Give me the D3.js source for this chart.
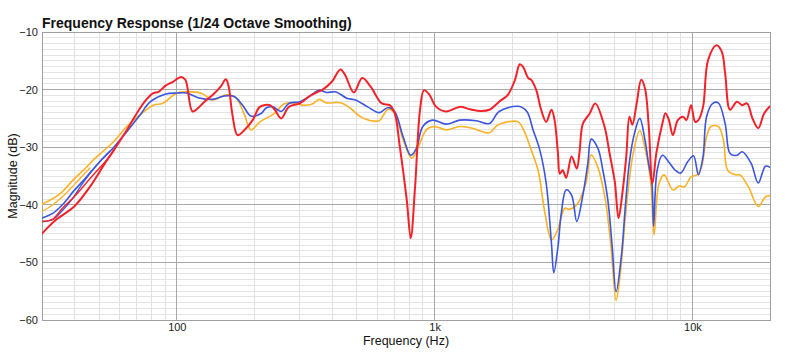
<!DOCTYPE html>
<html><head><meta charset="utf-8">
<script src="https://cdn.jsdelivr.net/npm/d3@7"></script>
<style>body{margin:0;background:#fff;} svg{display:block;font-family:"Liberation Sans",Arial,sans-serif;}</style>
</head><body><svg id="c" width="800" height="355"></svg>
<script>
const xTickValues = [100, 1000, 10000];
const xTickLabels = ["100", "1k", "10k"];
const yTickValues = [-60, -50, -40, -30, -20, -10];

const redFreq = [30,34,40,46,52.6,57,64,70,76,81,85,90,97,104,108,115,121,128,138,148,155,159,164,172,183,197,210,230,240,254,272,300,326,352,368,400,431,450,486,524,565,624,670,700,733,780,808,840,878,910,955,1015,1110,1250,1370,1510,1630,1780,1925,2050,2140,2200,2310,2370,2480,2590,2710,2840,2920,3010,3060,3140,3240,3400,3560,3650,3760,3990,4200,4560,4770,5000,5170,5350,5540,5700,5850,6080,6330,6550,6760,7000,7250,7650,7860,8100,8400,8780,9200,9480,9880,10250,10550,11000,11500,12400,13000,13400,14000,14880,15600,16300,17100,18000,19000,20000];
const redDb = [-45,-42.6,-40.3,-36.9,-32.8,-30.5,-27,-24.1,-21.8,-20.6,-20.4,-19.4,-18.6,-17.8,-18.3,-23.8,-23.2,-22.1,-20.9,-19.5,-18.2,-19.5,-24.1,-27.9,-27,-25.3,-23,-22.7,-23.5,-25,-23,-22.4,-21.2,-20.4,-20,-18.6,-16.5,-17.5,-20.5,-18,-19.5,-22.4,-22.7,-24.1,-29.9,-39.2,-45.8,-36.9,-23.5,-20.1,-20.9,-23,-23.8,-23,-23.4,-23.7,-23.5,-22.1,-20.9,-18.3,-15.6,-16,-18,-18.3,-20.1,-23.5,-25.6,-23.5,-25.3,-31.1,-34.6,-34,-35.3,-31.6,-33.7,-30.8,-25.9,-24.2,-22.4,-26.4,-31,-36,-42.3,-38,-31.6,-24.7,-26.1,-22.4,-18.3,-19.8,-25.9,-36.3,-31,-25.9,-24.1,-25.2,-27.9,-25.3,-24.7,-25.3,-22.7,-25.6,-25.3,-23,-14.9,-12.3,-13.4,-17.2,-23.5,-22.1,-22.7,-22.4,-25,-26.7,-24.1,-22.9];
const redAltFreq = [30,33,36,40,47,53.5,57];
const redAltDb = [-42.9,-42.5,-40.6,-38.6,-35,-32.2,-30.6];

const blueFreq = [30,33,36,40,44,50,57,64,72,79,90,100,109,121,138,153,167,180,194,213,222,236,254,272,300,326,357,380,415,456,493,550,610,660,700,755,808,850,900,980,1110,1250,1450,1630,1780,2110,2280,2410,2560,2710,2840,2900,3010,3100,3240,3400,3560,3760,3930,4050,4300,4495,4700,4880,5060,5300,5500,5700,5960,6250,6550,6760,6970,7070,7300,7650,8140,8580,9000,9600,10100,10550,11000,11350,12000,12600,13400,14000,14880,15600,16900,18000,19200,20000];
const blueDb = [-42.3,-41.5,-40,-37.5,-35.5,-32.6,-30,-27.3,-24.4,-22.1,-20.8,-20.6,-20.6,-21.4,-21.7,-21.1,-21.2,-22.7,-24.6,-24.1,-23.2,-23,-23.8,-22.4,-22.1,-21.2,-20.1,-20.5,-20.4,-21.5,-21.8,-23,-24,-23.1,-23.8,-28.2,-31.4,-30.2,-26.4,-25.3,-26,-25.3,-25.4,-25.9,-23.8,-22.9,-23.8,-27,-30.5,-36.3,-46.7,-51.8,-47.3,-41.5,-37.4,-38.3,-42.9,-38.3,-32.8,-28.6,-30.2,-34,-39.2,-47,-55.1,-49,-40,-32.5,-27.6,-25,-28.8,-32.8,-36.3,-43.7,-34,-31.4,-32.7,-34,-34.5,-32.5,-31.5,-34.8,-31.6,-24.7,-22.4,-22.3,-25.9,-31.1,-31.4,-30.8,-32.8,-36.2,-33.3,-33.5];
const blueAltFreq = [30,33,36,39,44,51,55];
const blueAltDb = [-42.9,-42.6,-41,-39.2,-35.7,-32.2,-30.7];

const orangeFreq = [30,35,40,45,47.5,50,57,64,72,81,88,100,109,124,138,155,170,183,194,210,222,240,260,283,307,335,357,380,431,470,515,565,610,660,700,755,815,860,932,1000,1110,1250,1400,1630,1750,1910,2110,2230,2370,2520,2680,2840,3000,3200,3330,3560,3860,4050,4300,4495,4640,4850,5060,5250,5540,5875,6250,6550,6880,7100,7420,7770,8400,8900,9300,9900,10400,10850,11350,11800,12600,13200,13700,14700,15300,16500,18000,19200,20000];
const orangeDb = [-39.9,-38.2,-35.5,-33.3,-32.2,-31.3,-29,-26.4,-24.4,-22.7,-22.4,-20.6,-20.4,-20.6,-21.8,-20.9,-21.5,-24.4,-27,-25.6,-25,-24.1,-22.5,-22.3,-22.7,-22.5,-21.7,-22.3,-22.3,-23.2,-24.7,-25.4,-25.4,-23.4,-24.1,-28.7,-31.9,-30.2,-26.9,-26.4,-27,-26.4,-26.7,-27.5,-26.2,-25.6,-25.6,-27.3,-30.5,-34,-41.5,-46.1,-44.4,-40.6,-40.8,-40,-36.3,-31.3,-33.5,-36.9,-40.3,-48,-56.6,-52,-40.5,-31.4,-27.1,-30.2,-35.7,-45.2,-36.3,-34.8,-37.4,-36.7,-36.9,-35.1,-34.8,-33.4,-28.2,-26.4,-26.4,-28.8,-34,-34.8,-34.8,-36.9,-40.3,-38.6,-38.4];
const orangeAltFreq = [30,33,36,40,43,46];
const orangeAltDb = [-41.2,-40,-38.6,-36.5,-35,-33.6];

const series = [
  {f: orangeAltFreq, v: orangeAltDb, color: "#fdb124", w: 1.3},
  {f: orangeFreq, v: orangeDb, color: "#fdb124", w: 1.6},
  {f: blueAltFreq, v: blueAltDb, color: "#3b55dc", w: 1.3},
  {f: blueFreq, v: blueDb, color: "#3b55dc", w: 1.6},
  {f: redAltFreq, v: redAltDb, color: "#f2222a", w: 1.4},
  {f: redFreq, v: redDb, color: "#f2222a", w: 2}
];

const L = 42, R = 770, T = 32, B = 320;
const svg = d3.select("#c");
const x = d3.scaleLog().domain([30, 20000]).range([L, R]);
const y = d3.scaleLinear().domain([-60, -10]).range([B, T]);

// minor grid
const minorX = [];
[10, 100, 1000, 10000].forEach(d => { for (let k = 2; k <= 9; k++) { const v = d * k; if (v > 30 && v < 20000) minorX.push(v); } });
const minorY = d3.range(-60, -9, 1).filter(v => v % 10 !== 0);
const g = svg.append("g");
g.selectAll(".mx").data(minorX).enter().append("line")
  .attr("x1", d => x(d)).attr("x2", d => x(d)).attr("y1", T).attr("y2", B)
  .attr("stroke", "#e0e0e0").attr("stroke-width", 1).attr("shape-rendering", "crispEdges");
g.selectAll(".my").data(minorY).enter().append("line")
  .attr("x1", L).attr("x2", R).attr("y1", d => y(d)).attr("y2", d => y(d))
  .attr("stroke", "#e4e4e4").attr("stroke-width", 1).attr("shape-rendering", "crispEdges");
g.selectAll(".Mx").data(xTickValues).enter().append("line")
  .attr("x1", d => x(d)).attr("x2", d => x(d)).attr("y1", T).attr("y2", B)
  .attr("stroke", "#a8a8a8").attr("stroke-width", 1).attr("shape-rendering", "crispEdges");
g.selectAll(".My").data(yTickValues).enter().append("line")
  .attr("x1", L).attr("x2", R).attr("y1", d => y(d)).attr("y2", d => y(d))
  .attr("stroke", "#a8a8a8").attr("stroke-width", 1).attr("shape-rendering", "crispEdges");
g.append("rect").attr("x", L).attr("y", T).attr("width", R - L).attr("height", B - T)
  .attr("fill", "none").attr("stroke", "#a0a0a0").attr("shape-rendering", "crispEdges");

// axes (labels only)
const xAxis = d3.axisBottom(x).tickValues(xTickValues).tickFormat((d, i) => xTickLabels[i]).tickSize(0).tickPadding(3);
const xa = svg.append("g").attr("transform", `translate(0,${B})`).call(xAxis);
xa.select(".domain").remove();
xa.selectAll("text").attr("font-size", 11).attr("fill", "#222").attr("font-family", "Liberation Sans, Arial, sans-serif");
const yAxis = d3.axisLeft(y).tickValues(yTickValues).tickSize(0).tickPadding(4);
const ya = svg.append("g").attr("transform", `translate(${L},0)`).call(yAxis);
ya.select(".domain").remove();
ya.selectAll("text").attr("font-size", 11).attr("fill", "#222").attr("font-family", "Liberation Sans, Arial, sans-serif");

// lines
svg.append("clipPath").attr("id", "pc").append("rect").attr("x", L).attr("y", T).attr("width", R - L).attr("height", B - T);
const line = d3.line().x(d => x(d[0])).y(d => y(d[1])).curve(d3.curveCatmullRom.alpha(0.5));
series.forEach(s => {
  svg.append("path").datum(s.f.map((f, i) => [f, s.v[i]]))
    .attr("d", line).attr("fill", "none").attr("stroke", s.color).attr("stroke-width", s.w)
    .attr("stroke-linejoin", "round").attr("stroke-linecap", "round").attr("clip-path", "url(#pc)");
});

// titles
svg.append("text").attr("x", 42).attr("y", 28).attr("font-size", 14).attr("font-weight", "bold").attr("fill", "#111")
  .text("Frequency Response (1/24 Octave Smoothing)");
svg.append("text").attr("x", (L + R) / 2).attr("y", 345).attr("text-anchor", "middle").attr("font-size", 12.5).attr("fill", "#111")
  .text("Frequency (Hz)");
svg.append("text").attr("transform", `translate(17,176) rotate(-90)`).attr("text-anchor", "middle").attr("font-size", 12.5).attr("fill", "#111")
  .text("Magnitude (dB)");
</script></body></html>
